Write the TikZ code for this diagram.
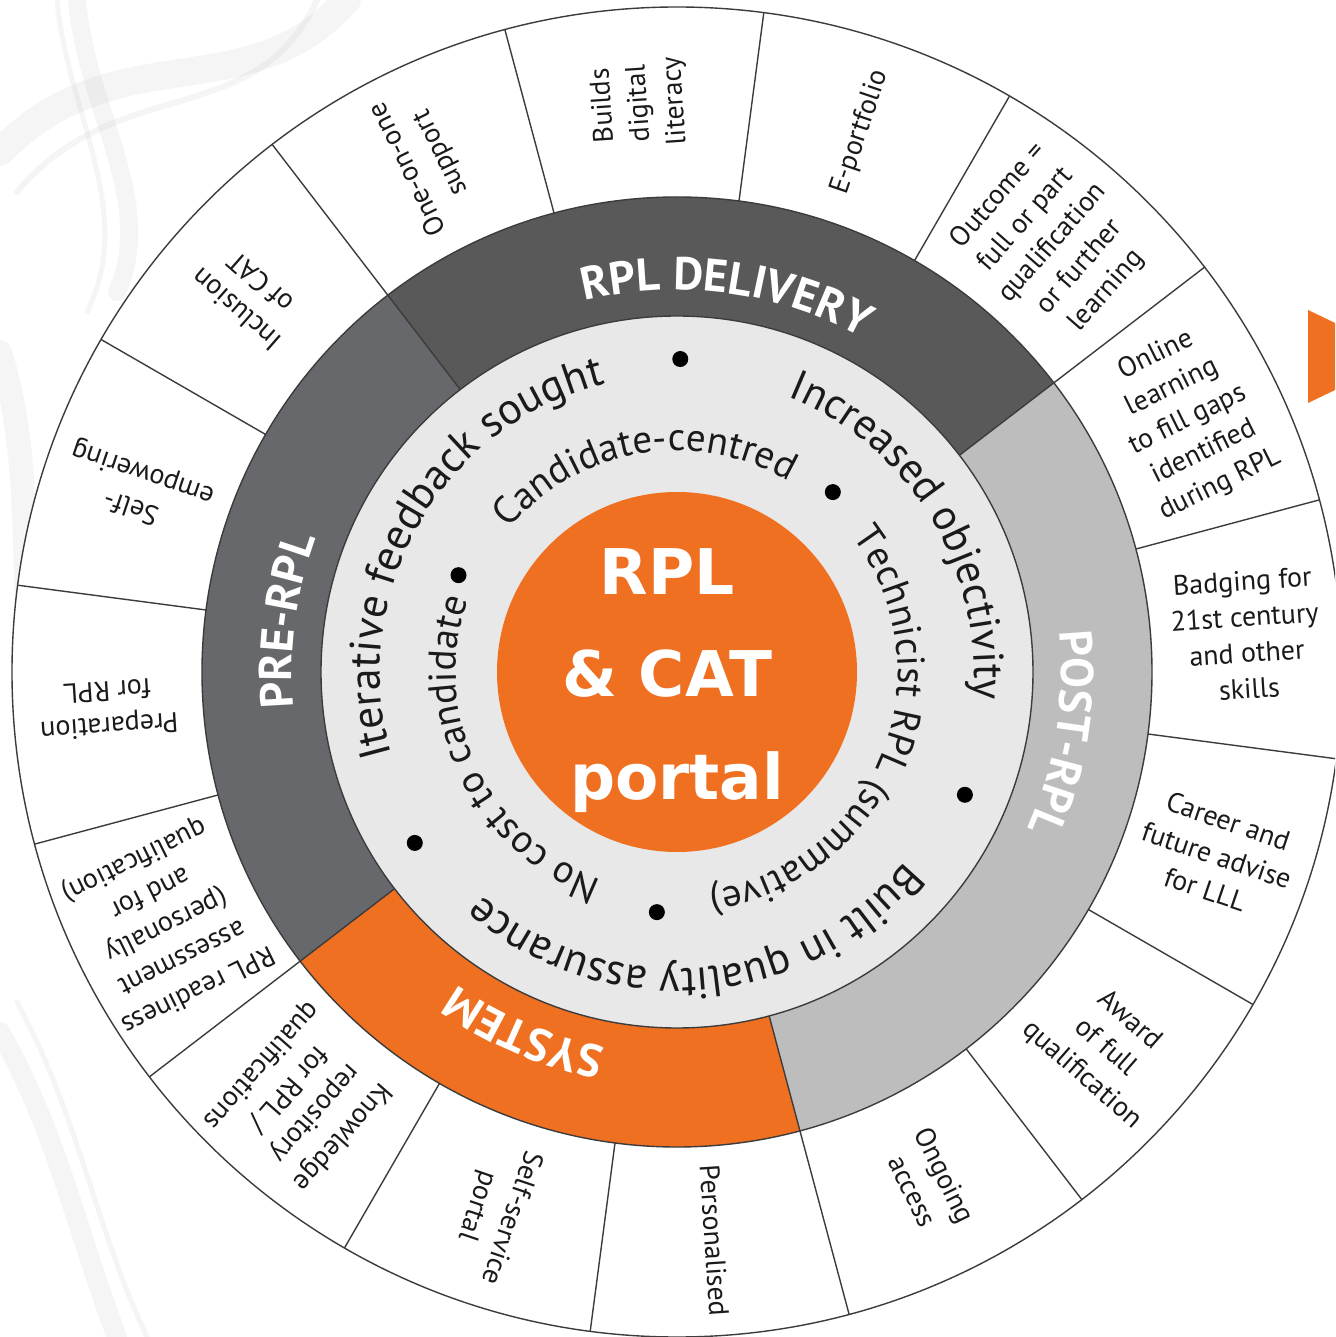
\documentclass[tikz,border=0pt]{standalone}
\usepackage{fontspec}
\setmainfont{PT Sans}
\newfontfamily\centerfont{DejaVu Sans}
\usetikzlibrary{decorations.text}
\definecolor{orng}{HTML}{F07022}
\definecolor{dgray}{HTML}{595959}
\definecolor{pgray}{HTML}{67686C}
\definecolor{lgray}{HTML}{BCBDBC}
\definecolor{disc}{HTML}{E8E8E8}
\definecolor{ink}{HTML}{1A1A1A}
\definecolor{smoke}{HTML}{A0A0A0}
\newcommand\ringtext[4]{%
  \path[decorate, decoration={text along path, text align=center, text={|#3|#4}}]
    ({#1+90}:#2) arc[start angle={#1+90}, end angle={#1-90}, radius=#2];}
\tikzset{
  seglabel/.style={font=\fontsize{28}{36}\selectfont, align=center, text=ink, inner sep=0pt},
  dotmark/.style={circle, fill=black, minimum size=16pt, inner sep=0pt},
  centre/.style={font=\centerfont\bfseries\fontsize{63}{63}\selectfont, text=white, anchor=base, inner sep=0pt},
  thinline/.style={draw=ink!85, line width=1.4pt},
  wisp/.style={draw=smoke, opacity=0.10, line cap=round}
}
\begin{document}
\begin{tikzpicture}[x=1pt,y=1pt]
\useasboundingbox (-677,-665) rectangle (658,672);
\clip (-677,-665) rectangle (658,672);
\fill[white] (-677,-665) rectangle (658,672);
% faint smoke in background
\draw[wisp, line width=28pt] (-677,520) .. controls (-560,640) and (-430,560) .. (-330,672);
\draw[wisp, line width=6pt] (-660,480) .. controls (-560,600) and (-420,540) .. (-360,672);
\draw[wisp, line width=18pt] (-600,672) .. controls (-590,560) and (-520,470) .. (-560,380);
\draw[wisp, line width=5pt] (-620,672) .. controls (-610,560) and (-540,460) .. (-590,360);
\draw[wisp, line width=24pt] (-677,320) .. controls (-640,200) and (-660,80) .. (-640,-60);
\draw[wisp, line width=20pt] (-677,-360) .. controls (-620,-460) and (-600,-560) .. (-560,-665);
\draw[wisp, line width=5pt] (-660,-330) .. controls (-600,-440) and (-580,-560) .. (-530,-665);
% outer ring
\draw[thinline, fill=white] (0,0) circle (665);
% sectors of the dark ring
\fill[dgray] (0,0) -- (37.5:475) arc[start angle=37.5, end angle=127.5, radius=475] -- cycle;
\fill[pgray] (0,0) -- (127.5:475) arc[start angle=127.5, end angle=217.5, radius=475] -- cycle;
\fill[orng] (0,0) -- (217.5:475) arc[start angle=217.5, end angle=285, radius=475] -- cycle;
\fill[lgray] (0,0) -- (285:475) arc[start angle=285, end angle=397.5, radius=475] -- cycle;
\foreach \a in {37.5,127.5,217.5,285} \draw[thinline] (\a:356) -- (\a:475);
\draw[thinline] (0,0) circle (475);
\foreach \k in {0,...,15} \draw[thinline] ({82.5+22.5*\k}:475) -- ({82.5+22.5*\k}:665);
% light disc and centre
\draw[thinline, fill=disc] (0,0) circle (356);
\fill[orng] (0,0) circle (180);
% sector titles
\ringtext{82.5}{382}{\color{white}\bfseries\fontsize{46}{46}\selectfont}{RPL DELIVERY}
\ringtext{172.5}{385}{\color{white}\bfseries\fontsize{46}{46}\selectfont}{PRE-RPL}
\ringtext{-9}{384}{\color{white}\bfseries\fontsize{46}{46}\selectfont}{POST-RPL}
\ringtext{247}{382}{\color{white}\bfseries\fontsize{46}{46}\selectfont}{SYSTEM}
% principles, outer line
\ringtext{150}{297}{\color{ink}\fontsize{44}{44}\selectfont}{Iterative feedback sought}
\ringtext{31.5}{297}{\color{ink}\fontsize{43}{43}\selectfont}{Increased objectivity}
\ringtext{-85.5}{297}{\color{ink}\fontsize{44}{44}\selectfont}{Built in quality assurance}
% principles, inner line
\ringtext{205.5}{221}{\color{ink}\fontsize{39}{39}\selectfont}{No cost to candidate}
\ringtext{99.6}{221}{\color{ink}\fontsize{39}{39}\selectfont}{Candidate-centred}
\ringtext{-22}{221}{\color{ink}\fontsize{39}{39}\selectfont}{Technicist RPL (summative)}
% bullets
\node[dotmark] (d1) at (89.4:313) {};
\node[dotmark] (d2) at (-23.1:313) {};
\node[dotmark] (d3) at (213.1:313) {};
\node[dotmark] (d4) at (156.1:239) {};
\node[dotmark] (d5) at (49.1:238) {};
\node[dotmark] (d6) at (265.2:241) {};
% centre text
\node[centre] (c1) at (-10,77) {RPL};
\node[centre] (c2) at (-10,-25) {\& CAT};
\node[centre] (c3) at (0,-128) {portal};
% outer segment labels
\foreach \ang/\txt [count=\i] in {
  93.75/{Builds\\digital\\literacy},
  71.25/{E-portfolio},
  48.75/{Outcome =\\full or part\\qualification\\or further\\learning},
  26.25/{Online\\learning\\to fill gaps\\identified\\during RPL},
  3.75/{Badging for\\21st century\\and other\\skills},
  -18.75/{Career and\\future advise\\for LLL},
  -41.25/{Award\\of full\\qualification},
  -63.75/{Ongoing\\access},
  -86.25/{Personalised},
  -108.75/{Self-service\\portal},
  -131.25/{Knowledge\\repository\\for RPL /\\qualifications},
  -153.75/{RPL readiness\\assessment\\(personally\\and for\\qualification)},
  183.75/{Preparation\\for RPL},
  161.25/{Self-\\empowering},
  138.75/{Inclusion\\of CAT},
  116.25/{One-on-one\\support}}
  \node[seglabel, rotate=\ang] (seg\i) at (\ang:570) {\txt};
% orange arrow at right edge
\fill[orng] (631,362) -- (631,269) -- (728,315.5) -- cycle;
\end{tikzpicture}
\end{document}
